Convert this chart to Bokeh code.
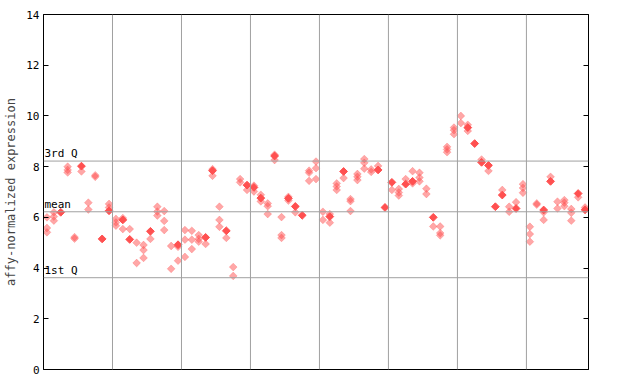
import numpy as np
from bokeh.plotting import figure
from bokeh.models import LinearAxis, FixedTicker, Span, Label, Range1d
from bokeh.embed import file_html
from bokeh.resources import INLINE

# ---- data ----
y_ticks = [0, 2, 4, 6, 8, 10, 12, 14]
group_bounds = [10, 20, 30, 40, 50, 60, 70]
n_samples = 79
q3_value = 8.22
mean_value = 6.22
q1_value = 3.62

hollow_values = [
    [6.0, 5.58, 5.41], [6.2, 6.03, 5.87], [], [8.0, 7.87, 7.77], [5.22, 5.16],
    [7.81], [6.58, 6.31], [7.66, 7.6], [], [6.53, 6.39],
    [5.94, 5.8, 5.67], [5.97, 5.54], [5.54], [5.0, 4.2], [4.91, 4.71, 4.4],
    [5.15], [6.42, 6.23, 6.07], [6.25, 5.86, 5.5], [4.87, 3.97], [4.84, 4.29],
    [5.5, 5.12, 4.44], [5.47, 5.12, 4.75], [5.3, 5.15, 5.04], [4.95], [7.9, 7.64],
    [6.42, 5.9, 5.63], [5.19], [4.04, 3.69], [7.51, 7.38], [7.08],
    [7.25, 7.02], [6.89, 6.63], [6.55, 6.44, 6.13], [8.47, 8.26], [6.01, 5.3, 5.19],
    [6.81, 6.66], [6.2], [], [7.84, 7.76, 7.44], [8.2, 7.94, 7.51],
    [6.22, 5.9], [6.13, 5.79], [7.34, 7.22, 7.08], [7.55], [6.72, 6.64, 6.25],
    [7.71, 7.6, 7.47], [8.3, 8.15, 7.92], [7.89, 7.79], [8.03], [],
    [7.08], [7.12, 6.98, 6.86], [7.51], [7.82, 7.34], [7.76, 7.57, 7.42],
    [7.13, 6.92], [5.64], [5.64, 5.38, 5.29], [8.78, 8.68, 8.57], [9.54, 9.44, 9.28],
    [10.0, 9.72], [9.65, 9.41], [], [8.28], [7.83],
    [], [7.08], [6.42, 6.22], [6.6], [7.31, 7.16, 6.97],
    [5.63, 5.34, 5.04], [6.55, 6.5], [6.2, 5.9], [7.6], [6.62, 6.35],
    [6.68, 6.58, 6.44], [6.33, 6.18, 5.87], [6.79], [6.39],
]
filled_values = [
    None, None, 6.2, None, None,
    8.02, None, None, 5.15, 6.26,
    None, 5.9, 5.13, None, None,
    5.45, None, None, None, 4.92,
    None, None, None, 5.21, 7.84,
    None, 5.47, None, None, 7.27,
    7.18, 6.76, None, 8.42, None,
    6.75, 6.43, 6.08, None, None,
    None, 6.03, None, 7.81, None,
    None, None, None, 7.87, 6.39,
    7.38, None, 7.31, 7.42, None,
    None, 6.0, None, None, None,
    None, 9.54, 8.91, 8.17, 8.05,
    6.42, 6.88, None, 6.35, None,
    None, None, 6.29, 7.42, None,
    None, None, 6.94, 6.3,
]

# ---- build sources ----
hx, hy, fx, fy = [], [], [], []
for i in range(n_samples):
    for v in hollow_values[i]:
        hx.append(i + 0.5)
        hy.append(v)
    if filled_values[i] is not None:
        fx.append(i + 0.5)
        fy.append(filled_values[i])

RED = "#ff5050"
GRID = "#a0a0a0"
FONT = "DejaVu Sans Mono"

p = figure(width=640, height=384, output_backend="svg", toolbar_location=None,
           x_range=Range1d(0, n_samples), y_range=Range1d(0, 14),
           min_border_left=43, min_border_right=52, min_border_top=14, min_border_bottom=15,
           frame_width=545, frame_height=355, y_axis_location=None, x_axis_location=None)
p.outline_line_color = "black"
p.outline_line_width = 1
p.background_fill_color = "white"
p.border_fill_color = "white"

p.xgrid.visible = False
p.ygrid.visible = False

for b in group_bounds:
    p.add_layout(Span(location=b, dimension="height", line_color=GRID, line_width=1))
for q in (q3_value, mean_value, q1_value):
    p.add_layout(Span(location=q, dimension="width", line_color=GRID, line_width=1))

left = LinearAxis(ticker=FixedTicker(ticks=y_ticks), axis_label="affy-normalized expression")
left.major_tick_in = 5
left.major_tick_out = 0
left.minor_tick_in = 0
left.minor_tick_out = 0
left.major_label_standoff = 4
left.major_label_text_font = FONT
left.major_label_text_font_size = "11px"
left.major_label_text_color = "black"
left.axis_label_text_font = FONT
left.axis_label_text_font_size = "12px"
left.axis_label_text_font_style = "normal"
left.axis_label_standoff = 5
left.axis_line_color = "black"
p.add_layout(left, "left")

right = LinearAxis(ticker=FixedTicker(ticks=y_ticks))
right.major_tick_in = 5
right.major_tick_out = 0
right.minor_tick_in = 0
right.minor_tick_out = 0
right.major_label_text_color = None
right.major_label_text_font_size = "1px"
p.add_layout(right, "right")

for txt, q in (("3rd Q", q3_value), ("mean", mean_value), ("1st Q", q1_value)):
    p.add_layout(Label(x=0, y=q, text=txt, x_offset=1, y_offset=1,
                       text_font=FONT, text_font_size="11px", text_color="black",
                       text_baseline="bottom", text_align="left"))

p.scatter(x=hx, y=hy, marker="square", angle=np.pi / 4, size=5.5,
          fill_color=RED, fill_alpha=0.5, line_color=RED, line_alpha=0.35, line_width=0.8)
p.scatter(x=fx, y=fy, marker="square", angle=np.pi / 4, size=5.5,
          fill_color=RED, fill_alpha=1.0, line_color=RED, line_width=1)

open("out.html", "w").write(file_html(p, INLINE))
